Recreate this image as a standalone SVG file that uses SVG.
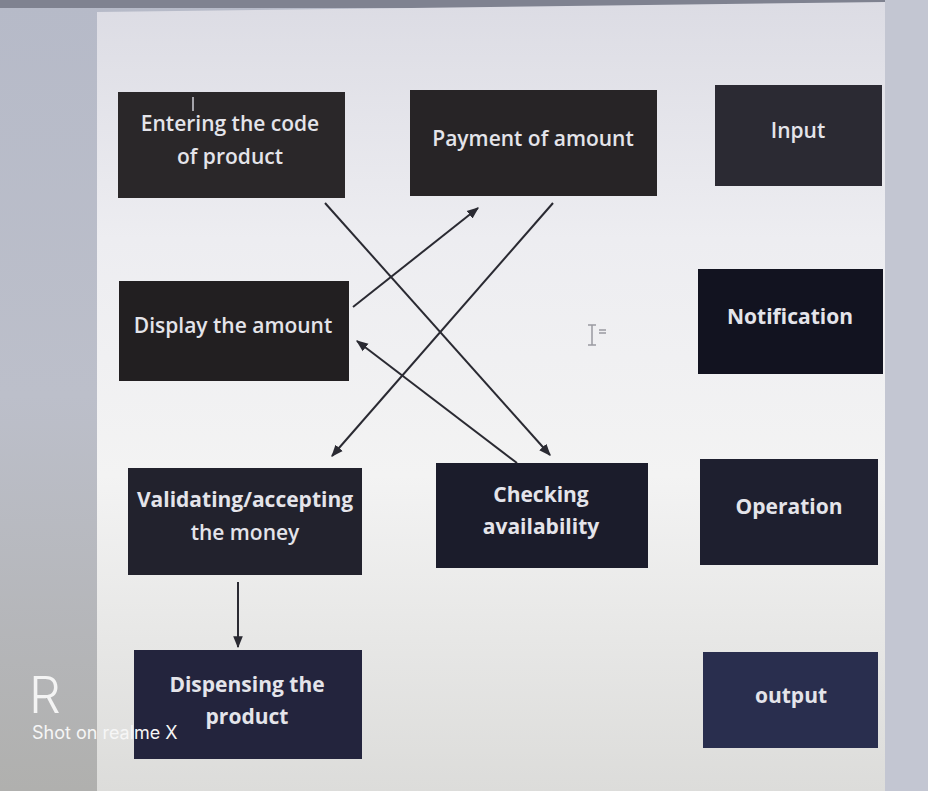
<svg xmlns="http://www.w3.org/2000/svg" width="928" height="791" viewBox="0 0 928 791">
<defs>
<linearGradient id="page" x1="0" y1="0" x2="0" y2="1">
<stop offset="0" stop-color="#dcdce4"/>
<stop offset="0.3" stop-color="#ededf1"/>
<stop offset="0.6" stop-color="#f3f3f3"/>
<stop offset="1" stop-color="#dcdcda"/>
</linearGradient>
<linearGradient id="side" x1="0" y1="0" x2="0" y2="1">
<stop offset="0" stop-color="#b6bac8"/>
<stop offset="0.5" stop-color="#bcbfca"/>
<stop offset="1" stop-color="#b0b0ae"/>
</linearGradient>
<marker id="ah" viewBox="0 0 10 10" refX="9" refY="5" markerWidth="6" markerHeight="6" orient="auto-start-reverse">
<path d="M0,1 L10,5 L0,9 Z" fill="#2a2a32"/>
</marker>
<style>
.box{stroke:none}
.t{font-family:"Open Sans","Liberation Sans",sans-serif;font-size:21px;font-weight:600;fill:#e4e4ea;text-anchor:middle}
.b{font-weight:bold}
.c{stroke:#2a2a32;stroke-width:2;fill:none;marker-end:url(#ah)}
</style>
</defs>
<rect x="0" y="0" width="928" height="791" fill="url(#side)"/>
<rect x="0" y="0" width="928" height="8" fill="#7f8290"/>
<polygon points="97,12 885,2 887,791 97,791" fill="url(#page)"/>
<rect x="885" y="0" width="43" height="791" fill="#c3c6d2"/>

<g id="n1"><rect class="box" x="118" y="92" width="227" height="106" fill="#2a2729"/>
<text class="t" x="230" y="131">Entering the code</text><text class="t" x="230" y="164">of product</text>
<line x1="193" y1="97" x2="193" y2="111" stroke="#cfcfd6" stroke-width="1.5"/></g>
<g id="n2"><rect class="box" x="410" y="90" width="247" height="106" fill="#272426"/>
<text class="t" x="533" y="146">Payment of amount</text></g>
<g id="n3"><rect class="box" x="715" y="85" width="167" height="101" fill="#2b2a33"/>
<text class="t" x="798" y="138">Input</text></g>
<g id="n4"><rect class="box" x="119" y="281" width="230" height="100" fill="#221f21"/>
<text class="t" x="233" y="333">Display the amount</text></g>
<g id="n5"><rect class="box" x="698" y="269" width="185" height="105" fill="#121320"/>
<text class="t b" x="790" y="324">Notification</text></g>
<g id="n6"><rect class="box" x="128" y="468" width="234" height="107" fill="#22222d"/>
<text class="t b" x="245" y="507">Validating/accepting</text><text class="t" x="245" y="540">the money</text></g>
<g id="n7"><rect class="box" x="436" y="463" width="212" height="105" fill="#1b1c2b"/>
<text class="t b" x="541" y="502">Checking</text><text class="t b" x="541" y="534">availability</text></g>
<g id="n8"><rect class="box" x="700" y="459" width="178" height="106" fill="#1e1f2f"/>
<text class="t b" x="789" y="514">Operation</text></g>
<g id="n9"><rect class="box" x="134" y="650" width="228" height="109" fill="#23243d"/>
<text class="t b" x="247" y="692">Dispensing the</text><text class="t b" x="247" y="724">product</text></g>
<g id="n10"><rect class="box" x="703" y="652" width="175" height="96" fill="#292e4e"/>
<text class="t b" x="791" y="703">output</text></g>

<g id="connectors">
<line class="c" x1="325" y1="203" x2="550" y2="455"/>
<line class="c" x1="353" y1="307" x2="478" y2="208"/>
<line class="c" x1="553" y1="203" x2="332" y2="456"/>
<line class="c" x1="517" y1="463" x2="357" y2="341"/>
<line class="c" x1="238" y1="582" x2="238" y2="647"/>
</g>

<g id="cursor" stroke="#9a9aa0" stroke-width="1.5" fill="none">
<line x1="592" y1="325" x2="592" y2="345"/><line x1="588" y1="325" x2="596" y2="325"/><line x1="588" y1="345" x2="596" y2="345"/>
<line x1="599" y1="330" x2="606" y2="330"/><line x1="599" y1="333" x2="606" y2="333"/>
</g>

<g id="watermark">
<text x="29" y="713" font-family="Inter,'Liberation Sans',sans-serif" font-size="50" font-weight="300" fill="#f4f4f4">R</text>
<text x="32" y="739" font-family="Inter,'Liberation Sans',sans-serif" font-size="18" fill="#f6f6f6">Shot on realme X</text>
</g>
</svg>
